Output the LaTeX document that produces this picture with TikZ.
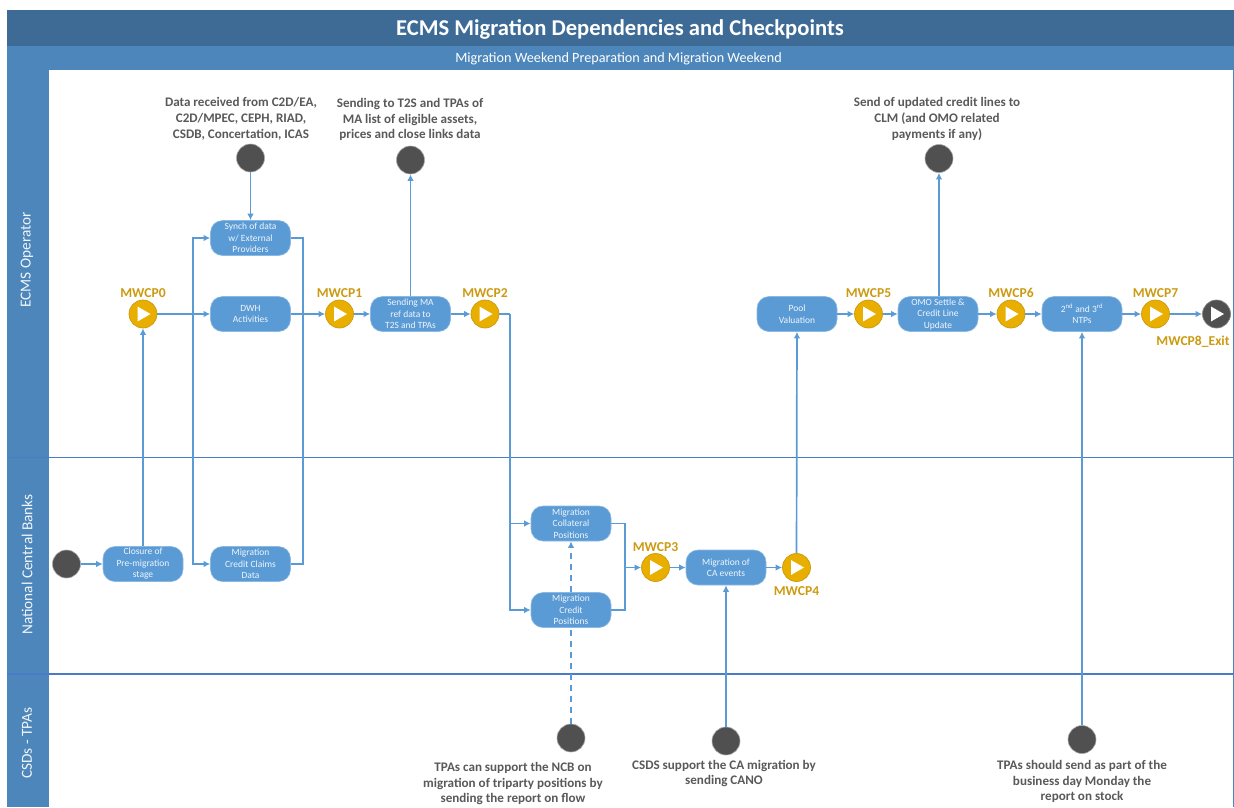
\documentclass[tikz,border=0pt]{standalone}
\usepackage{fontspec}
\setmainfont{Carlito}
\usepackage{tikz}
\usetikzlibrary{arrows.meta}
\definecolor{headdark}{HTML}{3D6B96}
\definecolor{headblue}{HTML}{4D86BB}
\definecolor{flowblue}{HTML}{5B9BD5}
\definecolor{laneblue}{HTML}{4A7BC8}
\definecolor{cpgold}{HTML}{E8AE00}
\definecolor{cptext}{HTML}{CC9A10}
\definecolor{darkdot}{HTML}{505050}
\definecolor{notegrey}{HTML}{595959}
\tikzset{
  activity/.style={rounded corners=12pt, fill=flowblue, draw=flowblue!70!white, line width=0.6pt,
    minimum width=80pt, minimum height=35pt, inner sep=0pt, align=center, text=white!90!flowblue,
    font=\fontsize{9.5}{11.5}\selectfont},
  cpoint/.style={circle, minimum size=28pt, inner sep=0pt, fill=cpgold, draw=cptext, line width=0.7pt,
    path picture={\fill[white] ([xshift=-5.5pt,yshift=7.5pt]path picture bounding box.center)
      -- ([xshift=7.5pt]path picture bounding box.center)
      -- ([xshift=-5.5pt,yshift=-7.5pt]path picture bounding box.center) -- cycle;}},
  exitpoint/.style={cpoint, fill=darkdot, draw=darkdot!70!white},
  dot/.style={circle, minimum size=28pt, inner sep=0pt, fill=darkdot, draw=darkdot!50!white, line width=0.6pt},
  cplabel/.style={text=cptext, inner sep=0pt, font=\bfseries\fontsize{13.6}{15}\selectfont},
  note/.style={text=notegrey, inner sep=0pt, align=center, font=\bfseries\fontsize{13.1}{15.8}\selectfont},
  lanelabel/.style={text=white!92!headblue, inner sep=0pt, rotate=90, font=\fontsize{15.3}{18}\selectfont},
  flow/.style={draw=flowblue, line width=1.7pt, -{Latex[length=6.5pt,width=6.5pt]}},
  plain/.style={draw=flowblue, line width=1.7pt},
  lane/.style={draw=laneblue, line width=1.6pt},
  looselydashed/.style={dash pattern=on 6pt off 5pt}
}
\begin{document}
\begin{tikzpicture}[x=1pt, y=-1pt]
  \useasboundingbox (0,0) rectangle (1234,807);
  % frame
  \fill[headblue] (7,46) rectangle (1233,70);
  \fill[headblue] (7,46) rectangle (49,807);
  \fill[headdark] (7,10) rectangle (1234,46);
  \draw[headblue, line width=1pt] (1233.5,46) -- (1233.5,807);
  \node [text=white, inner sep=0pt, font=\bfseries\fontsize{22.6}{26}\selectfont] (title) at (620,29.5) {ECMS Migration Dependencies and Checkpoints};
  \node [text=white, inner sep=0pt, font=\fontsize{14.2}{17}\selectfont] (subtitle) at (618.5,59) {Migration Weekend Preparation and Migration Weekend};
  \node [lanelabel] (ecmslane) at (27,260) {ECMS Operator};
  \node [lanelabel] (ncblane) at (27,564.5) {National Central Banks};
  \node [lanelabel] (csdlane) at (27,743) {CSDs - TPAs};
  \draw [lane] (7,457.5) -- (1234,457.5);
  \draw [lane] (7,674) -- (1234,674);

  % activities
  \node [activity] (synch) at (250.5,238) {Synch of data\\w/ External\\Providers};
  \node [activity] (dwh) at (250.5,314) {DWH\\Activities};
  \node [activity] (sendma) at (410.5,314) {Sending MA\\ref data to\\T2S and TPAs};
  \node [activity] (closure) at (143,564) {Closure of\\Pre-migration\\stage};
  \node [activity] (claims) at (250.5,564) {Migration\\Credit Claims\\Data};
  \node [activity] (collateral) at (571,523.5) {Migration\\Collateral\\Positions};
  \node [activity] (credit) at (571,610) {Migration\\Credit\\Positions};
  \node [activity] (caevents) at (726,567.5) {Migration of\\CA events};
  \node [activity] (pool) at (797,314) {Pool\\Valuation};
  \node [activity] (omo) at (938,314) {OMO Settle \&\\Credit Line\\Update};
  \node [activity] (ntps) at (1082,314) {2\textsuperscript{nd} and 3\textsuperscript{rd}\\NTPs};

  % checkpoints
  \node [cpoint, label={[cplabel, label distance=2pt]above:MWCP0}] (cp0) at (143,314) {};
  \node [cpoint, label={[cplabel, label distance=2pt]above:MWCP1}] (cp1) at (339.5,314) {};
  \node [cpoint, label={[cplabel, label distance=2pt]above:MWCP2}] (cp2) at (485,314) {};
  \node [cpoint, label={[cplabel, label distance=1pt]above:MWCP3}] (cp3) at (655.5,567.5) {};
  \node [cpoint, label={[cplabel, label distance=5pt]below:MWCP4}] (cp4) at (796.5,567.5) {};
  \node [cpoint, label={[cplabel, label distance=1.5pt]above:MWCP5}] (cp5) at (868.5,314) {};
  \node [cpoint, label={[cplabel, label distance=1.5pt]above:MWCP6}] (cp6) at (1011,314) {};
  \node [cpoint, label={[cplabel, label distance=1.5pt]above:MWCP7}] (cp7) at (1155.5,314) {};
  \node [exitpoint] (cp8) at (1216.5,314) {};
  \node [cplabel] (cp8label) at (1193,342) {MWCP8\_Exit};

  % events and their notes
  \node [dot] (start) at (66.5,564) {};
  \node [dot] (dataev) at (250.5,158) {};
  \node [dot] (listev) at (410.5,160) {};
  \node [dot] (creditev) at (939,158.5) {};
  \node [dot] (triparty) at (571,738) {};
  \node [dot] (cano) at (726,741) {};
  \node [dot] (stock) at (1082,739.5) {};
  \node [note] (datanote) at (241,118.5) {Data received from C2D/EA,\\C2D/MPEC, CEPH, RIAD,\\CSDB, Concertation, ICAS};
  \node [note] (listnote) at (410,119.5) {Sending to T2S and TPAs of\\MA list of eligible assets,\\prices and close links data};
  \node [note] (creditnote) at (937,119) {Send of updated credit lines to\\CLM (and OMO related\\payments if any)};
  \node [note] (tripartynote) at (513,783.5) {TPAs can support the NCB on\\migration of triparty positions by\\sending the report on flow};
  \node [note] (canonote) at (724,773.5) {CSDS support the CA migration by\\sending CANO};
  \node [note] (stocknote) at (1082,781.5) {TPAs should send as part of the\\business day Monday the\\report on stock};

  % junctions
  \coordinate (busin) at (193,314);
  \coordinate (busout) at (303,314);
  \coordinate (buscp) at (510,314);
  \coordinate (buspos) at (510,523.5);
  \coordinate (busca) at (625,567.5);

  % connectors
  \draw [flow] (start) -- (closure);
  \draw [flow] (closure) -- (cp0);
  \draw [flow] (cp0) -- (dwh);
  \draw [flow] (busin) |- (synch);
  \draw [flow] (busin) |- (claims);
  \draw [flow] (dataev) -- (synch);
  \draw [plain] (synch) -| (busout);
  \draw [plain] (claims) -| (busout);
  \draw [flow] (dwh) -- (cp1);
  \draw [flow] (cp1) -- (sendma);
  \draw [flow] (sendma) -- (listev);
  \draw [flow] (sendma) -- (cp2);
  \draw [plain] (cp2) -- (buscp);
  \draw [flow] (buscp) |- (credit);
  \draw [flow] (buspos) -- (collateral);
  \draw [plain] (collateral) -| (busca);
  \draw [plain] (credit) -| (busca);
  \draw [flow] (busca) -- (cp3);
  \draw [flow] (cp3) -- (caevents);
  \draw [flow] (caevents) -- (cp4);
  \draw [flow] (cp4) -- (pool);
  \draw [flow] (cano) -- (caevents);
  \draw [flow, looselydashed] (credit) -- (collateral);
  \draw [plain, looselydashed] (triparty) -- (credit);
  \draw [flow] (pool) -- (cp5);
  \draw [flow] (cp5) -- (omo);
  \draw [flow] (creditev |- omo.north) -- (creditev);
  \draw [flow] (omo) -- (cp6);
  \draw [flow] (cp6) -- (ntps);
  \draw [flow] (stock) -- (ntps);
  \draw [flow] (ntps) -- (cp7);
  \draw [flow] (cp7) -- (cp8);
\end{tikzpicture}
\end{document}
